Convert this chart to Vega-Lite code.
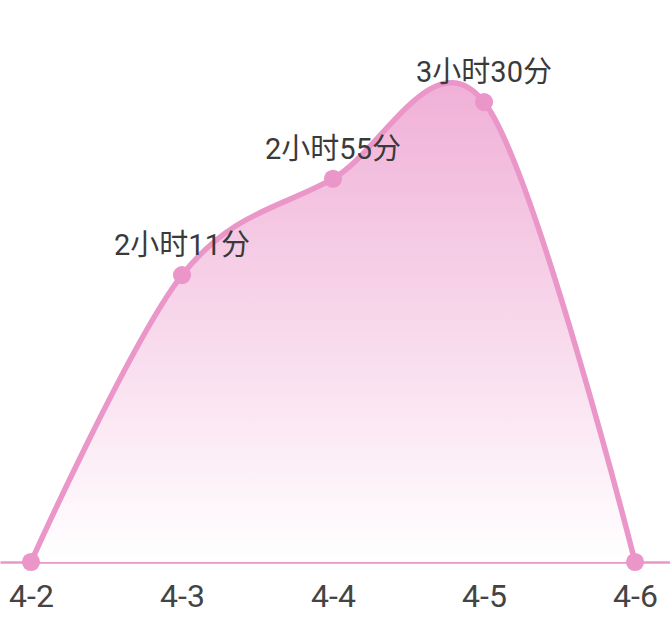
{
  "$schema": "https://vega.github.io/schema/vega-lite/v6.json",
  "width": 670,
  "height": 562,
  "padding": {"left": 0, "right": 0, "top": 0, "bottom": 81},
  "autosize": {"type": "none"},
  "background": "#ffffff",
  "config": {"view": {"stroke": null}},
  "data": {
    "values": [
      {"date": "4-2", "minutes": 0, "label": ""},
      {"date": "4-3", "minutes": 131, "label": "2小时11分"},
      {"date": "4-4", "minutes": 175, "label": "2小时55分"},
      {"date": "4-5", "minutes": 210, "label": "3小时30分"},
      {"date": "4-6", "minutes": 0, "label": ""}
    ]
  },
  "encoding": {
    "x": {
      "field": "date",
      "type": "ordinal",
      "sort": null,
      "scale": {"type": "point", "padding": 0.2185, "align": 0.47},
      "axis": {
        "title": null,
        "labelAngle": 0,
        "labelFont": "Roboto",
        "labelFontSize": 32,
        "labelColor": "#444444",
        "labelPadding": 19,
        "ticks": false,
        "domainColor": "#ea96c9",
        "domainWidth": 2.5,
        "grid": false
      }
    },
    "y": {
      "field": "minutes",
      "type": "quantitative",
      "scale": {"domain": [0, 256.6], "nice": false, "zero": true},
      "axis": null
    }
  },
  "layer": [
    {
      "mark": {
        "type": "area",
        "interpolate": "cardinal",
        "tension": 0,
        "color": {
          "gradient": "linear",
          "x1": 0, "y1": 0, "x2": 0, "y2": 1,
          "stops": [
            {"offset": 0, "color": "#f0b0d7"},
            {"offset": 1, "color": "#ffffff"}
          ]
        }
      }
    },
    {
      "mark": {"type": "line", "interpolate": "cardinal", "tension": 0, "color": "#ea96c9", "strokeWidth": 5.5}
    },
    {
      "mark": {"type": "point", "filled": true, "opacity": 1, "size": 330, "color": "#ea96c9"}
    },
    {
      "mark": {"type": "text", "font": "Roboto, Noto Sans CJK SC", "fontSize": 29, "color": "#3a3a3a", "baseline": "alphabetic", "dy": -20},
      "encoding": {"text": {"field": "label"}}
    }
  ]
}
